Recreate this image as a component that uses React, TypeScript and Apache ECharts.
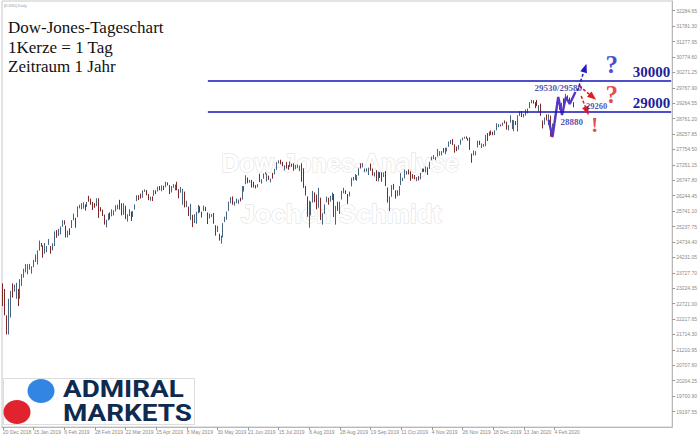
import React, { useEffect, useRef } from 'react';
import * as echarts from 'echarts';

// [date, open, close, low, high]
const candles: [string, number, number, number, number][] = [
  ['2018-12-20', 23280, 22860, 22640, 23380], ['2018-12-21', 22880, 22445, 22340, 23200],
  ['2018-12-24', 22320, 21792, 21713, 22340], ['2018-12-26', 21860, 22878, 21712, 22880],
  ['2018-12-27', 22630, 23138, 22268, 23140], ['2018-12-28', 23210, 23062, 22920, 23380],
  ['2018-12-31', 23150, 23327, 23110, 23340],
  ['2019-01-02', 23060, 23346, 22880, 23400], ['2019-01-03', 23180, 22686, 22640, 23200],
  ['2019-01-04', 22890, 23433, 22880, 23520], ['2019-01-07', 23470, 23531, 23300, 23690],
  ['2019-01-08', 23680, 23787, 23570, 23860], ['2019-01-09', 23850, 23879, 23740, 24010],
  ['2019-01-10', 23790, 24001, 23680, 24010], ['2019-01-11', 23940, 23996, 23830, 24020],
  ['2019-01-14', 23900, 23910, 23700, 23940], ['2019-01-15', 23950, 24065, 23910, 24150],
  ['2019-01-16', 24110, 24207, 24080, 24330], ['2019-01-17', 24150, 24370, 24000, 24460],
  ['2019-01-18', 24500, 24706, 24450, 24780], ['2019-01-21', 24680, 24620, 24580, 24700],
  ['2019-01-22', 24600, 24404, 24220, 24620], ['2019-01-23', 24500, 24575, 24350, 24700],
  ['2019-01-24', 24540, 24553, 24400, 24600], ['2019-01-25', 24700, 24737, 24640, 24830],
  ['2019-01-28', 24560, 24528, 24350, 24600], ['2019-01-29', 24530, 24579, 24460, 24690],
  ['2019-01-30', 24650, 25014, 24600, 25080], ['2019-01-31', 25030, 24999, 24870, 25120],
  ['2019-02-01', 25030, 25064, 24930, 25160], ['2019-02-04', 25050, 25239, 24980, 25240],
  ['2019-02-05', 25260, 25411, 25230, 25440], ['2019-02-06', 25390, 25390, 25300, 25440],
  ['2019-02-07', 25250, 25169, 24880, 25270], ['2019-02-08', 25050, 25106, 24880, 25110],
  ['2019-02-11', 25100, 25053, 24960, 25180], ['2019-02-12', 25200, 25425, 25190, 25450],
  ['2019-02-13', 25460, 25543, 25440, 25660], ['2019-02-14', 25500, 25439, 25200, 25520],
  ['2019-02-15', 25570, 25883, 25540, 25900], ['2019-02-18', 25880, 25900, 25830, 25950],
  ['2019-02-19', 25860, 25891, 25800, 26000], ['2019-02-20', 25900, 25954, 25820, 26030],
  ['2019-02-21', 25930, 25850, 25760, 25960], ['2019-02-22', 25900, 26031, 25880, 26040],
  ['2019-02-25', 26130, 26091, 26050, 26240], ['2019-02-26', 26060, 26057, 25950, 26150],
  ['2019-02-27', 25990, 25985, 25780, 26040], ['2019-02-28', 25960, 25916, 25850, 26000],
  ['2019-03-01', 26020, 26026, 25900, 26160], ['2019-03-04', 26100, 25819, 25520, 26160],
  ['2019-03-05', 25820, 25806, 25730, 25870], ['2019-03-06', 25760, 25673, 25580, 25790],
  ['2019-03-07', 25620, 25473, 25300, 25630], ['2019-03-08', 25290, 25450, 25210, 25460],
  ['2019-03-11', 25480, 25650, 25440, 25660], ['2019-03-12', 25640, 25554, 25470, 25700],
  ['2019-03-13', 25580, 25702, 25570, 25800], ['2019-03-14', 25680, 25709, 25600, 25770],
  ['2019-03-15', 25760, 25849, 25730, 25930], ['2019-03-18', 25860, 25914, 25800, 25950],
  ['2019-03-19', 25940, 25887, 25790, 26110], ['2019-03-20', 25870, 25745, 25600, 26000],
  ['2019-03-21', 25680, 25962, 25620, 26000], ['2019-03-22', 25910, 25502, 25480, 25920],
  ['2019-03-25', 25480, 25516, 25400, 25640], ['2019-03-26', 25600, 25657, 25580, 25800],
  ['2019-03-27', 25680, 25625, 25420, 25730], ['2019-03-28', 25600, 25717, 25550, 25740],
  ['2019-03-29', 25800, 25929, 25790, 25960],
  ['2019-04-01', 26080, 26258, 26070, 26260], ['2019-04-02', 26250, 26179, 26100, 26260],
  ['2019-04-03', 26230, 26218, 26150, 26310], ['2019-04-04', 26200, 26385, 26180, 26420],
  ['2019-04-05', 26400, 26425, 26370, 26450], ['2019-04-08', 26400, 26341, 26260, 26430],
  ['2019-04-09', 26280, 26151, 26100, 26300], ['2019-04-10', 26150, 26157, 26080, 26210],
  ['2019-04-11', 26180, 26143, 26070, 26220], ['2019-04-12', 26250, 26412, 26240, 26430],
  ['2019-04-15', 26390, 26384, 26300, 26420], ['2019-04-16', 26420, 26453, 26380, 26540],
  ['2019-04-17', 26490, 26450, 26420, 26560], ['2019-04-18', 26450, 26559, 26390, 26580],
  ['2019-04-22', 26520, 26512, 26430, 26570], ['2019-04-23', 26530, 26656, 26520, 26700],
  ['2019-04-24', 26650, 26597, 26580, 26680], ['2019-04-25', 26560, 26462, 26300, 26590],
  ['2019-04-26', 26460, 26543, 26350, 26560], ['2019-04-29', 26550, 26554, 26500, 26620],
  ['2019-04-30', 26500, 26593, 26420, 26610],
  ['2019-05-01', 26620, 26430, 26420, 26700], ['2019-05-02', 26440, 26308, 26160, 26460],
  ['2019-05-03', 26360, 26505, 26340, 26530], ['2019-05-06', 26100, 26438, 25950, 26470],
  ['2019-05-07', 26350, 25965, 25860, 26380], ['2019-05-08', 25950, 25968, 25870, 26080],
  ['2019-05-09', 25880, 25828, 25580, 25890], ['2019-05-10', 25780, 25942, 25450, 25980],
  ['2019-05-13', 25600, 25325, 25220, 25620], ['2019-05-14', 25360, 25532, 25350, 25640],
  ['2019-05-15', 25460, 25648, 25330, 25720], ['2019-05-16', 25680, 25863, 25670, 25940],
  ['2019-05-17', 25790, 25764, 25700, 25900], ['2019-05-20', 25700, 25680, 25530, 25720],
  ['2019-05-21', 25760, 25877, 25740, 25920], ['2019-05-22', 25850, 25776, 25740, 25880],
  ['2019-05-23', 25700, 25490, 25320, 25700], ['2019-05-24', 25540, 25586, 25500, 25660],
  ['2019-05-27', 25590, 25600, 25550, 25640], ['2019-05-28', 25600, 25347, 25330, 25680],
  ['2019-05-29', 25270, 25126, 24940, 25280], ['2019-05-30', 25130, 25170, 25060, 25260],
  ['2019-05-31', 24930, 24815, 24780, 25000],
  ['2019-06-03', 24800, 24820, 24680, 24940], ['2019-06-04', 24900, 25332, 24880, 25350],
  ['2019-06-05', 25400, 25539, 25380, 25560], ['2019-06-06', 25540, 25720, 25460, 25730],
  ['2019-06-07', 25760, 25984, 25750, 26050], ['2019-06-10', 26050, 26062, 26000, 26200],
  ['2019-06-11', 26100, 26048, 25950, 26220], ['2019-06-12', 26000, 26004, 25920, 26050],
  ['2019-06-13', 26030, 26107, 26000, 26150], ['2019-06-14', 26030, 26090, 25980, 26120],
  ['2019-06-17', 26120, 26112, 26060, 26180], ['2019-06-18', 26150, 26465, 26120, 26560],
  ['2019-06-19', 26470, 26504, 26380, 26560], ['2019-06-20', 26660, 26753, 26620, 26910],
  ['2019-06-21', 26740, 26719, 26650, 26840], ['2019-06-24', 26710, 26728, 26670, 26760],
  ['2019-06-25', 26720, 26548, 26510, 26760], ['2019-06-26', 26590, 26536, 26510, 26700],
  ['2019-06-27', 26550, 26526, 26480, 26590], ['2019-06-28', 26560, 26600, 26520, 26620],
  ['2019-07-01', 26900, 26717, 26690, 26960], ['2019-07-02', 26710, 26787, 26640, 26790],
  ['2019-07-03', 26820, 26966, 26800, 26970], ['2019-07-04', 26960, 26980, 26940, 27010],
  ['2019-07-05', 26880, 26922, 26710, 26970], ['2019-07-08', 26880, 26806, 26760, 26900],
  ['2019-07-09', 26720, 26783, 26680, 26800], ['2019-07-10', 26880, 26860, 26800, 26990],
  ['2019-07-11', 26950, 27088, 26940, 27120], ['2019-07-12', 27100, 27332, 27090, 27340],
  ['2019-07-15', 27350, 27359, 27300, 27400], ['2019-07-16', 27350, 27335, 27270, 27420],
  ['2019-07-17', 27330, 27219, 27210, 27350], ['2019-07-18', 27180, 27223, 27070, 27240],
  ['2019-07-19', 27260, 27154, 27130, 27340], ['2019-07-22', 27180, 27172, 27090, 27240],
  ['2019-07-23', 27200, 27349, 27180, 27360], ['2019-07-24', 27280, 27270, 27190, 27290],
  ['2019-07-25', 27280, 27140, 27060, 27300], ['2019-07-26', 27170, 27192, 27110, 27250],
  ['2019-07-29', 27200, 27221, 27140, 27260], ['2019-07-30', 27160, 27198, 27050, 27230],
  ['2019-07-31', 27210, 26864, 26700, 27300],
  ['2019-08-01', 26900, 26583, 26500, 27140], ['2019-08-02', 26540, 26485, 26250, 26560],
  ['2019-08-05', 26200, 25718, 25560, 26220], ['2019-08-06', 25700, 26030, 25200, 26080],
  ['2019-08-07', 25950, 26008, 25600, 26050], ['2019-08-08', 26050, 26379, 26020, 26400],
  ['2019-08-09', 26330, 26287, 26030, 26350], ['2019-08-12', 26260, 25897, 25800, 26280],
  ['2019-08-13', 25880, 26280, 25850, 26500], ['2019-08-14', 26150, 25479, 25450, 26180],
  ['2019-08-15', 25520, 25579, 25300, 25670], ['2019-08-16', 25660, 25886, 25650, 25960],
  ['2019-08-19', 26050, 26136, 26030, 26220], ['2019-08-20', 26140, 25962, 25950, 26180],
  ['2019-08-21', 26080, 26202, 26050, 26240], ['2019-08-22', 26220, 26253, 26100, 26350],
  ['2019-08-23', 26240, 25629, 25550, 26300], ['2019-08-26', 25450, 25899, 25300, 25910],
  ['2019-08-27', 25990, 25778, 25750, 26050], ['2019-08-28', 25730, 26036, 25650, 26050],
  ['2019-08-29', 26130, 26362, 26120, 26400], ['2019-08-30', 26400, 26403, 26320, 26500],
  ['2019-09-02', 26380, 26350, 26300, 26420], ['2019-09-03', 26250, 26118, 25980, 26300],
  ['2019-09-04', 26230, 26355, 26220, 26380], ['2019-09-05', 26560, 26728, 26550, 26830],
  ['2019-09-06', 26740, 26797, 26740, 26860], ['2019-09-09', 26820, 26835, 26760, 26950],
  ['2019-09-10', 26800, 26909, 26730, 26920], ['2019-09-11', 26930, 27137, 26900, 27140],
  ['2019-09-12', 27200, 27182, 27130, 27300], ['2019-09-13', 27200, 27220, 27170, 27310],
  ['2019-09-16', 27060, 27076, 27020, 27130], ['2019-09-17', 27070, 27111, 27030, 27140],
  ['2019-09-18', 27100, 27147, 26920, 27160], ['2019-09-19', 27170, 27094, 27060, 27290],
  ['2019-09-20', 27100, 26935, 26900, 27130], ['2019-09-23', 26900, 26949, 26870, 27010],
  ['2019-09-24', 27000, 26808, 26720, 27080], ['2019-09-25', 26800, 26970, 26710, 27030],
  ['2019-09-26', 26960, 26891, 26820, 27010], ['2019-09-27', 26900, 26820, 26700, 27010],
  ['2019-09-30', 26860, 26917, 26850, 27000],
  ['2019-10-01', 26960, 26573, 26560, 27050], ['2019-10-02', 26500, 26079, 26020, 26510],
  ['2019-10-03', 26060, 26201, 25740, 26220], ['2019-10-04', 26220, 26573, 26210, 26590],
  ['2019-10-07', 26520, 26478, 26440, 26630], ['2019-10-08', 26380, 26165, 26150, 26420],
  ['2019-10-09', 26250, 26347, 26230, 26420], ['2019-10-10', 26330, 26497, 26250, 26560],
  ['2019-10-11', 26600, 26817, 26590, 26980], ['2019-10-14', 26780, 26787, 26720, 26830],
  ['2019-10-15', 26820, 27024, 26810, 27100], ['2019-10-16', 27000, 27001, 26930, 27050],
  ['2019-10-17', 27060, 27026, 26940, 27100], ['2019-10-18', 27000, 26770, 26730, 27040],
  ['2019-10-21', 26850, 26828, 26800, 26950], ['2019-10-22', 26850, 26788, 26780, 26920],
  ['2019-10-23', 26760, 26834, 26720, 26850], ['2019-10-24', 26860, 26806, 26740, 26880],
  ['2019-10-25', 26800, 26958, 26780, 26990], ['2019-10-28', 27020, 27091, 27010, 27130],
  ['2019-10-29', 27090, 27071, 27020, 27130], ['2019-10-30', 27080, 27186, 27010, 27200],
  ['2019-10-31', 27160, 27046, 26920, 27170],
  ['2019-11-01', 27130, 27347, 27120, 27350], ['2019-11-04', 27440, 27462, 27400, 27520],
  ['2019-11-05', 27470, 27492, 27440, 27570], ['2019-11-06', 27480, 27493, 27400, 27510],
  ['2019-11-07', 27540, 27675, 27520, 27770], ['2019-11-08', 27640, 27681, 27550, 27700],
  ['2019-11-11', 27610, 27691, 27560, 27700], ['2019-11-12', 27700, 27691, 27650, 27800],
  ['2019-11-13', 27620, 27784, 27600, 27810], ['2019-11-14', 27760, 27782, 27690, 27810],
  ['2019-11-15', 27850, 28005, 27840, 28010], ['2019-11-18', 27990, 28036, 27930, 28060],
  ['2019-11-19', 28060, 27934, 27900, 28090], ['2019-11-20', 27900, 27821, 27650, 27920],
  ['2019-11-21', 27800, 27767, 27700, 27850], ['2019-11-22', 27800, 27876, 27750, 27900],
  ['2019-11-25', 27920, 28067, 27910, 28080], ['2019-11-26', 28070, 28122, 28050, 28140],
  ['2019-11-27', 28140, 28164, 28110, 28170], ['2019-11-28', 28160, 28150, 28100, 28180],
  ['2019-11-29', 28100, 28051, 28040, 28120],
  ['2019-12-02', 28110, 27784, 27740, 28150], ['2019-12-03', 27620, 27503, 27320, 27620],
  ['2019-12-04', 27600, 27650, 27560, 27720], ['2019-12-05', 27660, 27678, 27560, 27700],
  ['2019-12-06', 27830, 28015, 27820, 28040], ['2019-12-09', 28000, 27910, 27900, 28040],
  ['2019-12-10', 27880, 27881, 27800, 27950], ['2019-12-11', 27900, 27912, 27840, 27930],
  ['2019-12-12', 27890, 28132, 27860, 28230], ['2019-12-13', 28200, 28135, 28030, 28290],
  ['2019-12-16', 28220, 28235, 28190, 28340], ['2019-12-17', 28280, 28268, 28230, 28370],
  ['2019-12-18', 28290, 28240, 28220, 28330], ['2019-12-19', 28230, 28377, 28220, 28380],
  ['2019-12-20', 28400, 28455, 28380, 28610], ['2019-12-23', 28500, 28551, 28480, 28580],
  ['2019-12-24', 28550, 28516, 28510, 28570], ['2019-12-26', 28540, 28621, 28530, 28630],
  ['2019-12-27', 28650, 28645, 28600, 28700], ['2019-12-30', 28650, 28462, 28400, 28660],
  ['2019-12-31', 28420, 28538, 28380, 28550],
  ['2020-01-02', 28640, 28868, 28630, 28870], ['2020-01-03', 28480, 28634, 28420, 28720],
  ['2020-01-06', 28450, 28703, 28350, 28710], ['2020-01-07', 28640, 28584, 28550, 28680],
  ['2020-01-08', 28550, 28745, 28340, 28870], ['2020-01-09', 28850, 28957, 28850, 29000],
  ['2020-01-10', 29000, 28824, 28810, 29010], ['2020-01-13', 28830, 28907, 28800, 28910],
  ['2020-01-14', 28920, 28940, 28860, 29060], ['2020-01-15', 28950, 29030, 28930, 29090],
  ['2020-01-16', 29100, 29298, 29100, 29300], ['2020-01-17', 29330, 29348, 29260, 29370],
  ['2020-01-20', 29340, 29300, 29250, 29360], ['2020-01-21', 29230, 29196, 29100, 29300],
  ['2020-01-22', 29250, 29187, 29170, 29370], ['2020-01-23', 29150, 29160, 28990, 29200],
  ['2020-01-24', 29200, 28990, 28850, 29250], ['2020-01-27', 28600, 28536, 28440, 28700],
  ['2020-01-28', 28600, 28723, 28560, 28800], ['2020-01-29', 28820, 28734, 28700, 28900],
  ['2020-01-30', 28640, 28860, 28560, 28900], ['2020-01-31', 28810, 28256, 28170, 28860],
  ['2020-02-03', 28320, 28400, 28200, 28600], ['2020-02-04', 28630, 28808, 28620, 28840],
  ['2020-02-05', 29000, 29291, 28990, 29300], ['2020-02-06', 29290, 29380, 29220, 29400],
  ['2020-02-07', 29290, 29103, 29050, 29300], ['2020-02-10', 29040, 29277, 29010, 29280],
  ['2020-02-11', 29360, 29276, 29230, 29420], ['2020-02-12', 29380, 29551, 29370, 29570],
  ['2020-02-13', 29440, 29424, 29380, 29520], ['2020-02-14', 29440, 29398, 29330, 29450],
  ['2020-02-17', 29400, 29380, 29330, 29430], ['2020-02-18', 29280, 29232, 29130, 29300],
];

const totalSlots = 350;
const labelEvery = 16;
const monthNames = ['Jan', 'Feb', 'Mar', 'Apr', 'May', 'Jun', 'Jul', 'Aug', 'Sep', 'Oct', 'Nov', 'Dec'];

const yMin = 18694.2;
const yMax = 32600;
const yStep = 503.35;

const levels = [30000, 29000];
const levelStartIndex = 107;

// hand-drawn wave over the last candles
const waveIdx = [285, 287, 290, 292, 294, 296, 299];
const waveVal = [28716, 28160, 29466, 28879, 29466, 29238, 29630];

// annotation texts
const noteTexts = ['29530/29580', '29260', '28880', '!', '?', '?'];
const noteIdx = [290, 310, 297, 309, 318, 318];
const noteVal = [29760, 29170, 28650, 28580, 30511, 29532];

// projection arrows [fromIdx, fromVal, toIdx, toVal]
const blueArrow = [300, 29662, 304, 30413];
const redArrows = [
  [301, 29825, 308, 29466],
  [302, 29499, 305, 29009],
];

export default function App() {
  const ref = useRef<HTMLDivElement>(null);
  useEffect(() => {
    if (!ref.current) return;
    const chart = echarts.init(ref.current, undefined, { renderer: 'svg' });
    const n = candles.length;
    const cats: string[] = candles.map((c) => c[0]);
    for (let i = n; i < totalSlots; i++) cats.push('pad' + i);
    const ohlc = candles.map((c) => [c[1], c[2], c[3], c[4]]);

    const navy = '#1f1f9c';
    const lineBlue = '#1414b8';
    const fmtDate = (v: string) => {
      if (v.startsWith('pad')) return '';
      const [y, m, d] = v.split('-');
      return `${+d} ${monthNames[+m - 1]} ${y}`;
    };
    const showIdx = (i: number) => i % labelEvery === 0 && i < n;

    const noteStyles = [
      { fontSize: 9, color: navy, lineHeight: 9 },
      { fontSize: 8.5, color: navy, lineHeight: 8 },
      { fontSize: 9, color: navy, lineHeight: 9 },
      { fontSize: 22, color: '#e01b1b', lineHeight: 12 },
      { fontSize: 25, color: '#1c1cc4', lineHeight: 14 },
      { fontSize: 25, color: '#e01b1b', lineHeight: 14 },
    ];

    const markData: any[] = [];
    levels.forEach((lv) => {
      markData.push([
        {
          coord: [levelStartIndex, lv],
          symbol: 'none',
          lineStyle: { color: lineBlue, width: 1.6, type: 'solid' },
          label: {
            show: true,
            position: 'insideEndTop',
            formatter: String(lv),
            fontFamily: 'Liberation Serif',
            fontWeight: 'bold',
            fontSize: 15,
            color: navy,
            distance: [1, 1],
          },
        },
        { coord: [totalSlots - 1, lv], symbol: 'none' },
      ]);
    });
    markData.push([
      {
        coord: [blueArrow[0], blueArrow[1]],
        symbol: 'none',
        lineStyle: { color: '#1c1cc4', width: 1.5, type: [3, 2] },
        label: { show: false },
      },
      { coord: [blueArrow[2], blueArrow[3]], symbol: 'triangle', symbolSize: [7, 9], itemStyle: { color: '#1c1cc4' } },
    ]);
    redArrows.forEach((a) => {
      markData.push([
        {
          coord: [a[0], a[1]],
          symbol: 'none',
          lineStyle: { color: '#e01b1b', width: 1.5, type: [3, 2] },
          label: { show: false },
        },
        { coord: [a[2], a[3]], symbol: 'triangle', symbolSize: [7, 9], itemStyle: { color: '#e01b1b' } },
      ]);
    });

    chart.setOption({
      animation: false,
      backgroundColor: '#ffffff',
      grid: { left: 2, top: 1, right: 24, bottom: 11, show: true, borderColor: '#c8c8c8', borderWidth: 1 },
      xAxis: {
        type: 'category',
        data: cats,
        boundaryGap: true,
        axisLine: { lineStyle: { color: '#b8b8b8', width: 1 } },
        axisTick: { show: true, alignWithLabel: true, interval: (i: number) => showIdx(i), length: 3, lineStyle: { color: '#9a9a9a' } },
        axisLabel: {
          interval: (i: number) => showIdx(i),
          formatter: fmtDate,
          fontSize: 5,
          color: '#8a8a8a',
          align: 'left',
          margin: 2,
          fontFamily: 'Liberation Sans',
        },
        splitLine: { show: false },
      },
      yAxis: {
        type: 'value',
        position: 'right',
        min: yMin,
        max: yMax,
        interval: yStep,
        scale: true,
        axisLine: { show: true, lineStyle: { color: '#b8b8b8', width: 1 } },
        axisTick: { show: true, length: 3, lineStyle: { color: '#9a9a9a' } },
        axisLabel: {
          formatter: (v: number) => v.toFixed(2),
          fontSize: 5,
          color: '#8a8a8a',
          margin: 4,
          showMinLabel: false,
          showMaxLabel: false,
          fontFamily: 'Liberation Sans',
        },
        splitLine: { show: false },
      },
      series: [
        {
          type: 'candlestick',
          data: ohlc,
          barWidth: '55%',
          itemStyle: {
            color: '#6f90ae',
            color0: '#9b3434',
            borderColor: '#46637f',
            borderColor0: '#7d2828',
            borderWidth: 1,
          },
          z: 3,
          markLine: {
            silent: true,
            animation: false,
            symbol: ['none', 'none'],
            label: { show: false },
            data: markData,
            z: 6,
          },
        },
        {
          type: 'line',
          data: waveIdx.map((x, i) => [x, waveVal[i]]),
          symbol: 'none',
          lineStyle: { color: '#5a36c4', width: 2.4 },
          z: 5,
          silent: true,
        },
        {
          type: 'scatter',
          symbolSize: 1,
          itemStyle: { color: 'rgba(0,0,0,0)' },
          silent: true,
          z: 7,
          data: noteTexts.map((t, i) => ({
            value: [noteIdx[i], noteVal[i]],
            label: {
              show: true,
              position: 'inside',
              formatter: t,
              fontFamily: 'Liberation Serif',
              fontWeight: 'bold',
              fontSize: noteStyles[i].fontSize,
              lineHeight: noteStyles[i].lineHeight,
              color: noteStyles[i].color,
            },
          })),
        },
      ],
      graphic: [
        {
          type: 'text', x: 340, y: 163, z: 0, silent: true,
          style: { text: 'Dow-Jones-Analyse', fill: '#ffffff', stroke: '#dcdcdc', lineWidth: 1, font: 'bold 25px "Liberation Sans"', textAlign: 'center', textVerticalAlign: 'middle' },
        },
        {
          type: 'text', x: 341, y: 214, z: 0, silent: true,
          style: { text: 'Jochen Schmidt', fill: '#ffffff', stroke: '#dcdcdc', lineWidth: 1, font: 'bold 26px "Liberation Sans"', textAlign: 'center', textVerticalAlign: 'middle' },
        },
        {
          type: 'text', x: 4, y: 3, z: 10,
          style: { text: '[DJI30],Daily', fill: '#9a9a9a', font: '4px "Liberation Sans"', textVerticalAlign: 'top' },
        },
        {
          type: 'text', x: 8, y: 27, z: 10,
          style: { text: 'Dow-Jones-Tageschart', fill: '#111', font: '17px "Liberation Serif"', textVerticalAlign: 'middle' },
        },
        {
          type: 'text', x: 8, y: 47, z: 10,
          style: { text: '1Kerze = 1 Tag', fill: '#111', font: '17px "Liberation Serif"', textVerticalAlign: 'middle' },
        },
        {
          type: 'text', x: 8, y: 66.5, z: 10,
          style: { text: 'Zeitraum 1 Jahr', fill: '#111', font: '17px "Liberation Serif"', textVerticalAlign: 'middle' },
        },
        {
          type: 'rect', z: 10, shape: { x: 3.5, y: 378.5, width: 191, height: 46 },
          style: { fill: '#ffffff', stroke: '#dddddd', lineWidth: 1 },
        },
        { type: 'ellipse', z: 11, shape: { cx: 41, cy: 391, rx: 13.5, ry: 12 }, style: { fill: '#3385e3' } },
        { type: 'ellipse', z: 11, shape: { cx: 17, cy: 412, rx: 13.5, ry: 12 }, style: { fill: '#e0232e' } },
        {
          type: 'text', x: 63, y: 388.5, scaleX: 1.21, z: 11,
          style: { text: 'ADMIRAL', fill: '#0f2a50', font: 'bold 23px Roboto', textVerticalAlign: 'middle' },
        },
        {
          type: 'text', x: 63, y: 412.5, scaleX: 1.21, z: 11,
          style: { text: 'MARKETS', fill: '#0f2a50', font: 'bold 23px Roboto', textVerticalAlign: 'middle' },
        },
      ],
    });
    return () => chart.dispose();
  }, []);
  return <div ref={ref} style={{ width: 700, height: 438, position: 'fixed', left: 0, top: 0 }} />;
}
